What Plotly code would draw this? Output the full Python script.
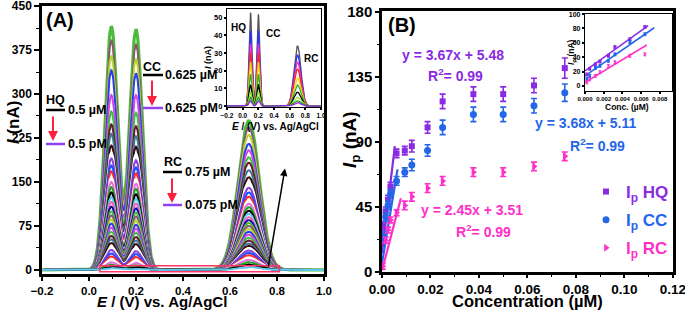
import numpy as np
import plotly.graph_objects as go

W, H = 685, 310
def fx(px): return px / W
def fy(py): return 1 - py / H

FONT = "Liberation Sans"

# ---------------- Panel A data (peak heights of each DPV curve, nA) -------------
potential = np.linspace(-0.2, 1.0, 721)
hq_peaks = [415, 392, 365, 340, 298, 270, 248, 232, 212, 200, 190, 178, 168, 158, 150, 141, 132, 124, 116, 108,
            100, 93, 86, 79, 72, 65, 58, 52, 46, 40, 34, 28, 23, 18, 13, 9, 6, 3]
cc_peaks = [410, 385, 360, 335, 298, 268, 245, 228, 210, 198, 187, 175, 165, 155, 147, 138, 129, 121, 113, 105,
            98, 91, 84, 77, 70, 63, 56, 50, 44, 38, 32, 27, 22, 17, 12, 8, 5, 2]
rc_peaks = [254, 243, 230, 215, 204, 192, 183, 170, 158, 149, 140, 132, 125, 119, 113, 107, 101, 96, 90, 85,
            80, 75, 70, 65, 60, 55, 50, 45, 41, 37, 33, 29, 25, 21, 17, 13, 9, 5]
peak_E = [0.095, 0.200, 0.680]
peak_sigma = [0.027, 0.027, 0.045]

# inset A
inset_hq_peaks = [53, 43, 35, 30, 25, 18, 12, 8, 5, 3]
inset_cc_peaks = [52, 43, 35, 30, 25, 18, 12, 8, 5, 3]
inset_rc_peaks = [34, 29, 25, 21, 16, 12, 8, 5, 3, 2]
inset_peak_E = [0.10, 0.20, 0.70]
inset_peak_sigma = [0.019, 0.019, 0.045]

# ---------------- Panel B data -------------
conc = [0.0003, 0.0015, 0.0025, 0.0035, 0.006, 0.0094, 0.0123, 0.0188, 0.025, 0.0377, 0.050, 0.0627, 0.0754]
hq_ip = [32, 42, 50, 59, 82, 84, 87, 100, 118, 123, 123, 129, 141]
cc_ip = [25, 38, 46, 54, 63, 69, 74, 84, 100, 109, 109, 115, 124]
rc_ip = [4, 22, 29, 36, 41, 46, 52, 58, 63, 69, 69, 73, 80]
hq_err = [3, 3, 3, 3, 3, 3, 4, 4, 5, 5, 5, 5, 7]
cc_err = [3, 3, 3, 3, 3, 3, 4, 4, 5, 5, 5, 5, 6]
rc_err = [2, 2, 2, 2, 2, 3, 3, 3, 3, 3, 3, 3, 3]
fit_hq_x, fit_hq_y = [0.0, 0.0053], [13, 87]
fit_cc_x, fit_cc_y = [0.0, 0.0064], [6, 71]
fit_rc_x, fit_rc_y = [0.0, 0.0078], [1, 51]

inset_conc = [0.0002, 0.0005, 0.0011, 0.0016, 0.0025, 0.0032, 0.0048, 0.0064]
inset_hq = [16, 24, 30, 34, 42, 54, 65, 82]
inset_cc = [10, 14, 25, 28, 35, 44, 61, 72]
inset_rc = [5, 9, 14, 19, 28, 33, 42, 44]
inset_fit_hq_x, inset_fit_hq_y = [0.0, 0.00675], [21, 84]
inset_fit_cc_x, inset_fit_cc_y = [0.0, 0.0074], [14, 81]
inset_fit_rc_x, inset_fit_rc_y = [0.0, 0.0066], [5, 57]

PURPLE = "#8a2be2"
BLUE = "#2466e8"
MAGENTA = "#ff2fc8"

palette = ["#4cbb3c", "#8c5870", "#b4d432", "#2a3cf0", "#d048e0", "#40c040", "#6a1838", "#3c7896",
           "#3a0a0a", "#ffffff", "#8a40e0", "#1a50ff", "#ff2a2a", "#ffffff", "#e070e0", "#20a020",
           "#000000", "#60c8f0", "#ff60c0", "#1010a0"]
inset_palette = ["#555555", "#3030ff", "#ff30c0", "#ff2020", "#e8e000", "#30b030", "#000000",
                 "#9adf40", "#20a020", "#a020f0"]


def dpv(E, heights, centers, sigmas):
    y = np.zeros_like(E)
    for h, c, s in zip(heights, centers, sigmas):
        y = y + h * np.exp(-(E - c) ** 2 / (2 * s ** 2))
    return y


fig = go.Figure()

# main A curves
for i, (h1, h2, h3) in enumerate(zip(hq_peaks, cc_peaks, rc_peaks)):
    yv = dpv(potential, [h1, h2, h3], peak_E, peak_sigma)
    fig.add_trace(go.Scatter(x=potential, y=yv, mode="lines",
                             line=dict(color=palette[i % len(palette)], width=3.2 if i == 0 else 2),
                             showlegend=False, hoverinfo="skip", xaxis="x", yaxis="y"))

# inset A curves
for i, (h1, h2, h3) in enumerate(zip(inset_hq_peaks, inset_cc_peaks, inset_rc_peaks)):
    yv = dpv(potential, [h1, h2, h3], inset_peak_E, inset_peak_sigma)
    fig.add_trace(go.Scatter(x=potential, y=yv, mode="lines",
                             line=dict(color=inset_palette[i % len(inset_palette)], width=1.3),
                             showlegend=False, hoverinfo="skip", xaxis="x3", yaxis="y3"))

# main B
for fxv, fyv, col in [(fit_hq_x, fit_hq_y, PURPLE), (fit_cc_x, fit_cc_y, BLUE), (fit_rc_x, fit_rc_y, MAGENTA)]:
    fig.add_trace(go.Scatter(x=fxv, y=fyv, mode="lines", line=dict(color=col, width=2.2),
                             showlegend=False, xaxis="x2", yaxis="y2"))

series = [
    ("HQ", hq_ip, hq_err, PURPLE, "square", 6),
    ("CC", cc_ip, cc_err, BLUE, "circle", 7),
    ("RC", rc_ip, rc_err, MAGENTA, "triangle-right", 7),
]
for name, vals, err, col, sym, sz in series:
    fig.add_trace(go.Scatter(
        x=conc, y=vals, mode="markers",
        marker=dict(color=col, symbol=sym, size=sz),
        error_y=dict(type="data", array=err, color=col, thickness=1.6, width=3),
        name=f"<span style='color:{col}'>I<sub>p</sub> {name}</span>", legendgroup=name,
        xaxis="x2", yaxis="y2"))

# inset B
for fxv, fyv, col in [(inset_fit_hq_x, inset_fit_hq_y, PURPLE), (inset_fit_cc_x, inset_fit_cc_y, BLUE),
                      (inset_fit_rc_x, inset_fit_rc_y, MAGENTA)]:
    fig.add_trace(go.Scatter(x=fxv, y=fyv, mode="lines", line=dict(color=col, width=1.6),
                             showlegend=False, xaxis="x4", yaxis="y4"))
for vals, col, sym in [(inset_hq, PURPLE, "square"), (inset_cc, BLUE, "circle"), (inset_rc, MAGENTA, "triangle-right")]:
    fig.add_trace(go.Scatter(x=inset_conc, y=vals, mode="markers",
                             marker=dict(color=col, symbol=sym, size=3),
                             error_y=dict(type="constant", value=2, color=col, thickness=1, width=1.5),
                             showlegend=False, xaxis="x4", yaxis="y4"))


def axis_style(size, lw=2.5, ticklen=5, minor_dtick=None, **kw):
    d = dict(showline=True, linecolor="black", linewidth=lw, mirror=True, ticks="outside",
             ticklen=ticklen, tickwidth=1.5, tickcolor="black", showgrid=False, zeroline=False,
             automargin=False, tickangle=0, ticklabeloverflow="allow",
             tickfont=dict(family=FONT, size=size, color="black", weight="bold"))
    if minor_dtick is not None:
        d["minor"] = dict(dtick=minor_dtick, ticks="outside", ticklen=max(2, ticklen - 2), tickwidth=1.2,
                          tickcolor="black", showgrid=False)
    d.update(kw)
    return d


fig.update_layout(
    width=W, height=H, margin=dict(l=0, r=0, t=0, b=0, pad=0, autoexpand=False),
    paper_bgcolor="white", plot_bgcolor="white",
    xaxis=axis_style(11.5, ticklen=4, domain=[fx(42), fx(324)], range=[-0.2, 1.0001], tick0=-0.2, dtick=0.2,
                     tickformat=".1f", anchor="y", minor_dtick=0.1),
    yaxis=axis_style(12, domain=[fy(274), fy(6)], range=[-7, 450.1], tick0=0, dtick=75, anchor="x",
                     minor_dtick=37.5),
    xaxis2=axis_style(13.5, ticklen=3, domain=[fx(382), fx(673)], range=[0, 0.12005], tick0=0, dtick=0.02,
                      tickformat=".2f", anchor="y2", minor_dtick=0.01),
    yaxis2=axis_style(15, ticklen=4, domain=[fy(272), fy(11)], range=[0, 180.5], tick0=0, dtick=45, anchor="x2",
                      minor_dtick=22.5),
    xaxis3=axis_style(6.5, lw=1.2, ticklen=2, domain=[fx(227), fx(321)], range=[-0.2, 1.0001], tick0=-0.2,
                      dtick=0.2, tickformat=".1f", anchor="y3"),
    yaxis3=axis_style(7.5, lw=1.2, ticklen=2, domain=[fy(107), fy(9)], range=[-0.5, 55], tick0=0, dtick=10,
                      anchor="x3"),
    xaxis4=axis_style(6, lw=1.2, ticklen=2, domain=[fx(585), fx(672)], range=[0, 0.0093], tick0=0,
                      dtick=0.002, tickformat=".3f", anchor="y4"),
    yaxis4=axis_style(7, lw=1.2, ticklen=2, domain=[fy(91), fy(14)], range=[-7, 100.1], tick0=0, dtick=20,
                      anchor="x4"),
    legend=dict(x=fx(586), y=fy(174), xanchor="left", yanchor="top", bgcolor="rgba(0,0,0,0)",
                font=dict(family=FONT, size=17, weight="bold"), itemwidth=30, tracegroupgap=3),
    showlegend=True,
)

ann = []
def txt(s, px, py, size, color="black", xanchor="center", yanchor="middle", angle=0):
    ann.append(dict(text=s, x=fx(px), y=fy(py), xref="paper", yref="paper", showarrow=False,
                    xanchor=xanchor, yanchor=yanchor, textangle=angle,
                    font=dict(family=FONT, size=size, color=color, weight="bold")))

# Panel A text
txt("(A)", 44, 20, 20, xanchor="left")
txt("<i>I</i> (nA)", 14, 123, 17, angle=-90)
txt("<i>E</i> / (V) vs. Ag/AgCl", 162, 301, 15)
txt("HQ", 55, 100, 12.5)
txt("0.5 µM", 66, 110, 12.5, xanchor="left")
txt("0.5 pM", 66, 144, 12.5, xanchor="left")
txt("CC", 152, 67, 12.5)
txt("0.625 µM", 163, 75, 12.5, xanchor="left")
txt("0.625 pM", 163, 108, 12.5, xanchor="left")
txt("RC", 173, 162, 12.5)
txt("0.75 µM", 183, 172, 12.5, xanchor="left")
txt("0.075 pM", 183, 205, 12.5, xanchor="left")
# inset A text
txt("HQ", 238, 27, 10)
txt("CC", 273, 34, 10)
txt("RC", 311, 58, 10)
txt("<i>I</i> (nA)", 208, 58, 9, angle=-90)
txt("<i>E</i> / (V) vs. Ag/AgCl", 275, 126, 10)

# Panel B text
txt("(B)", 386, 25, 20, xanchor="left")
txt("<i>I</i><sub>p</sub> (nA)", 351, 140, 19, angle=-90)
txt("Concentration (µM)", 527, 301, 16.5)
txt("y = 3.67x + 5.48", 453, 55, 14, PURPLE)
txt("R<sup>2</sup>= 0.99", 455, 75, 14, PURPLE)
txt("y = 3.68x + 5.11", 585, 123, 14, BLUE)
txt("R<sup>2</sup>= 0.99", 597, 145, 14, BLUE)
txt("y = 2.45x + 3.51", 472, 210, 14, MAGENTA)
txt("R<sup>2</sup>= 0.99", 483, 231, 14, MAGENTA)
# inset B text
txt("Conc. (µM)", 627, 107, 8.5)
txt("<i>I</i><sub>p</sub> (nA)", 572, 52, 8.5, angle=-90)

# red arrows
for px, y0, y1 in [(53, 115, 141), (152, 79, 106), (172, 177, 203)]:
    ann.append(dict(x=fx(px), y=fy(y1), xref="paper", yref="paper", ax=0, ay=-(y1 - y0), text="",
                    showarrow=True, arrowhead=2, arrowsize=1, arrowwidth=2, arrowcolor="#ff2040"))
# black arrow (A)
ann.append(dict(x=0.834, y=173, xref="x", yref="y", ax=0.762, ay=3, axref="x", ayref="y", text="",
                showarrow=True, arrowhead=2, arrowsize=1, arrowwidth=1.5, arrowcolor="black"))
fig.update_layout(annotations=ann)

shapes = []
for x0, x1, py, col in [(46, 65, 110, "black"), (46, 65, 144, "#9040f0"),
                        (143, 163, 75, "black"), (143, 163, 108, "#9040f0"),
                        (163, 182, 172, "black"), (163, 182, 205, "#9040f0")]:
    shapes.append(dict(type="line", xref="paper", yref="paper", x0=fx(x0), x1=fx(x1), y0=fy(py), y1=fy(py),
                       line=dict(color=col, width=2.5)))
shapes.append(dict(type="rect", xref="x", yref="y", x0=0.046, x1=0.81, y0=-3, y1=7,
                   line=dict(color="#ff3366", width=1.5)))
fig.update_layout(shapes=shapes)

fig.write_html("out.html", config={"displayModeBar": False},
               post_script="document.body.style.margin='0';document.body.style.overflow='hidden';")
